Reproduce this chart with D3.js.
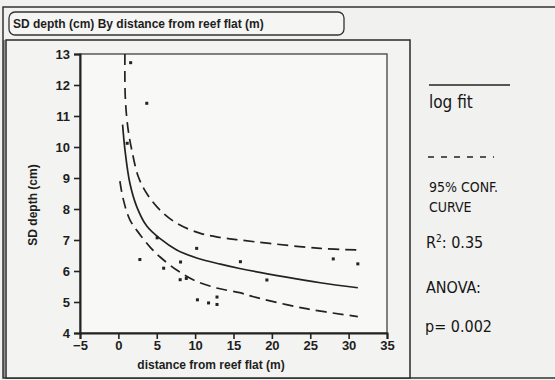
<!DOCTYPE html>
<html>

<head>
    <meta charset="UTF-8">
    <title>SD depth by distance from reef flat</title>
    <script src="https://d3js.org/d3.v7.min.js"></script>
    <style>
        body { margin: 0; background: #f1f1ef; }
        text { font-family: "Liberation Sans", Arial, sans-serif; fill: #1e1e1e; }
        .hand { font-family: "Liberation Sans Narrow", "DejaVu Sans Condensed", "DejaVu Sans", sans-serif; fill: #151515; }
    </style>
</head>

<body>
    <div class="canvas"></div>

    <script>
        // dimensions
        const width = 555;
        const height = 380;
        const margin = { top: 54, left: 80 };
        const graphWidth = 307;
        const graphHeight = 279;

        // observed points (distance m, SD depth cm)
        const pointX = [1.6, 3.7, 1.15, 5.05, 2.8, 5.9, 8.1, 8.05, 8.85, 10.2, 10.3, 11.75, 12.85, 12.85, 15.9, 19.35, 28.0, 31.2];
        const pointY = [12.72, 11.41, 10.12, 7.07, 6.37, 6.09, 6.29, 5.72, 5.76, 6.73, 5.07, 4.97, 5.16, 4.92, 6.30, 5.71, 6.39, 6.23];

        // curves
        const fitX = [0.55, 0.86, 1.5, 2.4, 3.7, 5.4, 7.6, 10.2, 13.3, 15.8, 21.9, 26.3, 31.2];
        const fitY = [10.72, 9.9, 8.83, 8.07, 7.45, 7.05, 6.68, 6.42, 6.22, 6.08, 5.8, 5.62, 5.46];
        const upperX = [0.85, 0.9, 1.25, 1.75, 2.6, 3.7, 5.4, 7.6, 10.6, 13.3, 15.8, 19.7, 26.3, 31.2];
        const upperY = [13.0, 11.6, 10.6, 9.9, 9.04, 8.5, 7.97, 7.54, 7.22, 7.08, 7.0, 6.89, 6.73, 6.68];
        const lowerX = [0.2, 0.6, 1.5, 2.8, 4.1, 5.4, 7.6, 9.8, 12.8, 15.8, 17.6, 24.1, 31.2];
        const lowerY = [8.9, 8.35, 7.65, 7.18, 6.78, 6.46, 6.03, 5.71, 5.45, 5.3, 5.17, 4.8, 4.53];

        const xTicks = [-5, 0, 5, 10, 15, 20, 25, 30, 35];
        const yTicks = [4, 5, 6, 7, 8, 9, 10, 11, 12, 13];

        const legendNotes = ["95% CONF.", "CURVE"];

        const svg = d3.select(".canvas")
            .append("svg")
            .attr("width", width)
            .attr("height", height);

        // outer frames
        svg.append("rect").attr("x", 3).attr("y", 7).attr("width", 560).attr("height", 371)
            .attr("fill", "none").attr("stroke", "#333").attr("stroke-width", 1.5);
        svg.append("rect").attr("x", 6).attr("y", 40).attr("width", 404).attr("height", 338)
            .attr("fill", "#f3f3f1").attr("stroke", "#2a2a2a").attr("stroke-width", 1.5);
        svg.append("line").attr("x1", 4).attr("x2", 4).attr("y1", 40).attr("y2", 378)
            .attr("stroke", "#333").attr("stroke-width", 1);

        // title box
        svg.append("rect").attr("x", 9).attr("y", 12).attr("width", 335).attr("height", 23)
            .attr("rx", 6).attr("fill", "#f5f5f3").attr("stroke", "#333").attr("stroke-width", 1.3);
        svg.append("text").attr("x", 13).attr("y", 28)
            .style("font-size", "12px").style("font-weight", "bold")
            .text("SD depth (cm) By distance from reef flat (m)");

        const graph = svg.append("g")
            .attr("transform", `translate(${margin.left}, ${margin.top})`);

        graph.append("rect").attr("width", graphWidth).attr("height", graphHeight)
            .attr("fill", "#f8f8f6").attr("stroke", "#333").attr("stroke-width", 1.2);

        const xScale = d3.scaleLinear().domain([-5, 35]).range([0, graphWidth]);
        const yScale = d3.scaleLinear().domain([4, 13]).range([graphHeight, 0]);

        // axes
        const xAxisGroup = graph.append("g").attr("transform", `translate(0, ${graphHeight})`)
            .call(d3.axisBottom(xScale).tickValues(xTicks).tickSize(6).tickPadding(2));
        const yAxisGroup = graph.append("g")
            .call(d3.axisLeft(yScale).tickValues(yTicks).tickSize(6).tickPadding(4));

        [xAxisGroup, yAxisGroup].forEach(g => {
            g.select(".domain").attr("stroke", "#222").attr("stroke-width", 2);
            g.selectAll(".tick line").attr("stroke", "#222").attr("stroke-width", 1.6);
            g.selectAll("text").style("font-size", "13px").style("font-weight", "bold")
                .style("font-family", "Liberation Sans, Arial, sans-serif")
                .attr("fill", "#1e1e1e");
        });

        graph.append("text").attr("x", 131).attr("y", graphHeight + 36)
            .attr("text-anchor", "middle").style("font-size", "12px").style("font-weight", "bold")
            .text("distance from reef flat (m)");
        graph.append("text").attr("transform", `translate(-43, ${151}) rotate(-90)`)
            .attr("text-anchor", "middle").style("font-size", "12px").style("font-weight", "bold")
            .text("SD depth (cm)");

        // curves
        const line = d3.line()
            .x(d => xScale(d[0]))
            .y(d => yScale(d[1]))
            .curve(d3.curveCatmullRom.alpha(0.5));

        const curves = [
            { pts: d3.zip(fitX, fitY), dash: null },
            { pts: d3.zip(upperX, upperY), dash: "11,6" },
            { pts: d3.zip(lowerX, lowerY), dash: "11,6" }
        ];

        graph.selectAll("path.curve")
            .data(curves)
            .enter()
            .append("path")
            .attr("class", "curve")
            .attr("d", d => line(d.pts))
            .attr("fill", "none")
            .attr("stroke", "#222")
            .attr("stroke-width", 1.7)
            .attr("stroke-dasharray", d => d.dash);

        // points
        graph.selectAll("rect.pt")
            .data(d3.zip(pointX, pointY))
            .enter()
            .append("rect")
            .attr("class", "pt")
            .attr("x", d => xScale(d[0]) - 1.5)
            .attr("y", d => yScale(d[1]) - 1.5)
            .attr("width", 3)
            .attr("height", 3)
            .attr("fill", "#222");

        // hand-written legend
        const legend = svg.append("g");
        legend.append("line").attr("x1", 429).attr("x2", 510).attr("y1", 85).attr("y2", 85)
            .attr("stroke", "#222").attr("stroke-width", 1.5);
        legend.append("text").attr("class", "hand").attr("x", 429).attr("y", 108)
            .style("font-size", "17px").text("log fit");
        legend.append("line").attr("x1", 428).attr("x2", 494).attr("y1", 157).attr("y2", 157)
            .attr("stroke", "#222").attr("stroke-width", 1.3).attr("stroke-dasharray", "6,7");
        legend.selectAll("text.note")
            .data(legendNotes)
            .enter()
            .append("text")
            .attr("class", "hand note")
            .attr("x", 429)
            .attr("y", (d, i) => 192 + i * 20)
            .style("font-size", "14px")
            .text(d => d);
        legend.append("text").attr("class", "hand").attr("x", 426).attr("y", 248)
            .style("font-size", "16px").html("R<tspan dy='-6' font-size='10px'>2</tspan><tspan dy='6'>: 0.35</tspan>");
        legend.append("text").attr("class", "hand").attr("x", 426).attr("y", 293)
            .style("font-size", "16px").text("ANOVA:");
        legend.append("text").attr("class", "hand").attr("x", 425).attr("y", 332)
            .style("font-size", "16px").text("p= 0.002");
    </script>
</body>

</html>
